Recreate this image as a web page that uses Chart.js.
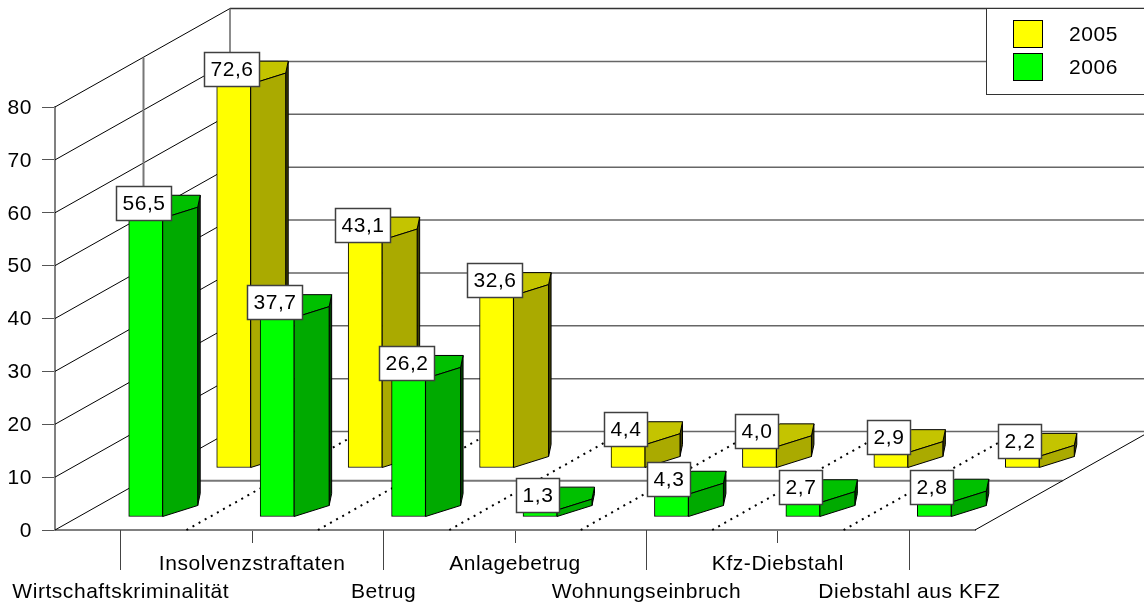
<!DOCTYPE html>
<html>
<head>
<meta charset="utf-8">
<script src="https://cdn.jsdelivr.net/npm/chart.js@4/dist/chart.umd.min.js"></script>
<style>
html, body { margin: 0; padding: 0; background: #fff; }
canvas { display: block; }
</style>
</head>
<body>
<canvas id="chart" width="1144" height="602"></canvas>
<script>
const categories = ['Wirtschaftskriminalität', 'Insolvenzstraftaten', 'Betrug', 'Anlagebetrug',
    'Wohnungseinbruch', 'Kfz-Diebstahl', 'Diebstahl aus KFZ'];
const values2005 = [72.6, 43.1, 32.6, 4.4, 4.0, 2.9, 2.2];
const values2006 = [56.5, 37.7, 26.2, 1.3, 4.3, 2.7, 2.8];
const yTicks = [0, 10, 20, 30, 40, 50, 60, 70, 80];

const FONT = '21px "Liberation Sans", Arial, sans-serif';

// how far the walls run back into the picture
const depthX = 175;
const depthY = 98.5;

// where each row of bars stands on the floor, and the colours of its faces
const rows = [
    { dx: 113, dy: -62, side: '#aaaa00', top: '#c4c400', dark: '#404000' },
    { dx: 25, dy: -13, side: '#00aa00', top: '#00c000', dark: '#004000' }
];

function line(ctx, x1, y1, x2, y2) {
    ctx.beginPath();
    ctx.moveTo(x1, y1);
    ctx.lineTo(x2, y2);
    ctx.stroke();
}

function poly(ctx, pts, fill) {
    ctx.beginPath();
    pts.forEach((p, i) => i ? ctx.lineTo(p[0], p[1]) : ctx.moveTo(p[0], p[1]));
    ctx.closePath();
    ctx.fillStyle = fill;
    ctx.fill();
    ctx.stroke();
}

// Floor and walls behind the bars
const wallsPlugin = {
    id: 'walls',
    beforeDraw(chart) {
        // the original text is set a little wider than the font's own spacing
        chart.ctx.letterSpacing = '0.55px';
    },
    beforeDatasetsDraw(chart) {
        const { ctx, chartArea: area, scales: { x, y } } = chart;
        const midX = area.left + depthX / 2 + 1, midY = -depthY / 2;
        const y0 = y.getPixelForValue(0);
        ctx.save();

        // left wall slants, back wall horizontals
        yTicks.forEach(v => {
            const py = y.getPixelForValue(v);
            ctx.strokeStyle = '#000';
            ctx.lineWidth = 1;
            line(ctx, area.left, py, area.left + depthX, py - depthY);
            ctx.strokeStyle = v === 80 ? '#333' : '#666';
            ctx.lineWidth = 1.5;
            line(ctx, area.left + depthX, py - depthY, 1144, py - depthY);
        });

        ctx.strokeStyle = '#666';
        ctx.lineWidth = 1.5;
        line(ctx, area.left + depthX, area.top - depthY, area.left + depthX, y0 - depthY);
        ctx.strokeStyle = '#777';
        ctx.lineWidth = 2;
        line(ctx, midX, area.top + midY, midX, y0 + midY);
        line(ctx, midX, y0 + midY, area.right + depthX / 2, y0 + midY);

        // right edge of the floor
        ctx.strokeStyle = '#000';
        ctx.lineWidth = 1;
        line(ctx, area.right, y0, area.right + depthX, y0 - depthY);

        // dotted lines across the floor, between the categories
        ctx.lineWidth = 2;
        ctx.setLineDash([2, 5]);
        const step = x.width / categories.length;
        for (let i = 1; i < categories.length; i++) {
            const px = x.getPixelForValue(i - 1) + step / 2;
            line(ctx, px, y0, px + depthX, y0 - depthY);
        }
        ctx.setLineDash([]);

        // every other tick runs down to the second label line
        ctx.strokeStyle = '#444';
        ctx.lineWidth = 1;
        for (let i = 0; i < categories.length; i += 2) {
            const px = Math.round(x.getPixelForValue(i) - 0.5) + 0.5;
            line(ctx, px, y0, px, y0 + 40);
        }
        ctx.restore();
    }
};

// Moves each series back onto its row and adds the side and top faces
const barsPlugin = {
    id: 'bars3d',
    beforeDatasetDraw(chart, args) {
        const { ctx } = chart;
        const row = rows[args.index];
        ctx.save();
        ctx.translate(row.dx, row.dy);
        ctx.strokeStyle = '#000';
        ctx.lineWidth = 1;
        args.meta.data.forEach(bar => {
            const x0 = bar.x - 17, x1 = bar.x + 17, top = bar.y, base = bar.base;
            poly(ctx, [[x1 + 35, top - 11], [x1 + 37.5, top - 23], [x1 + 37.5, base - 23], [x1 + 35, base - 11]], row.dark);
            poly(ctx, [[x0, top], [x1, top], [x1 + 35, top - 11], [x1 + 37.5, top - 23], [x0 + 37.5, top - 23]], row.top);
            poly(ctx, [[x1, top], [x1 + 35, top - 11], [x1 + 35, base - 11], [x1, base]], row.side);
        });
    },
    afterDatasetDraw(chart) {
        chart.ctx.restore();
    }
};

// Value boxes and legend, on top of everything
const labelsPlugin = {
    id: 'boxes',
    afterDatasetsDraw(chart) {
        const { ctx } = chart;
        ctx.save();
        ctx.font = FONT;
        ctx.textAlign = 'center';
        ctx.textBaseline = 'middle';
        ctx.lineWidth = 1.5;

        // back row first so the front row boxes stay above it
        chart.data.datasets.forEach((ds, d) => {
            const meta = chart.getDatasetMeta(d);
            ds.data.forEach((v, i) => {
                const text = v.toFixed(1).replace('.', ',');
                const w = Math.round(ctx.measureText(text).width) + 12;
                const cx = meta.data[i].x + rows[d].dx - 2.5;
                const bottom = meta.data[i].y + rows[d].dy + 1.5;
                const left = Math.round(cx - w / 2) + 0.5, top = Math.round(bottom - 34) + 0.5;
                ctx.fillStyle = '#fff';
                ctx.strokeStyle = '#404040';
                ctx.fillRect(left, top, w, 34);
                ctx.strokeRect(left, top, w, 34);
                ctx.fillStyle = '#000';
                ctx.fillText(text, left + w / 2, top + 18);
            });
        });

        // legend
        ctx.lineWidth = 1;
        ctx.fillStyle = '#fff';
        ctx.strokeStyle = '#333';
        ctx.fillRect(986.5, 8.5, 160, 86);
        ctx.strokeRect(986.5, 8.5, 160, 86);
        chart.data.datasets.forEach((ds, d) => {
            const sy = 20.5 + d * 33;
            ctx.fillStyle = ds.backgroundColor;
            ctx.strokeStyle = '#000';
            ctx.fillRect(1013.5, sy, 29, 27);
            ctx.strokeRect(1013.5, sy, 29, 27);
            ctx.fillStyle = '#000';
            ctx.textAlign = 'left';
            ctx.fillText(ds.label, 1069, 35 + d * 33);
        });
        ctx.restore();
    }
};

new Chart(document.getElementById('chart').getContext('2d'), {
    type: 'bar',
    data: {
        labels: categories,
        datasets: [
            { label: '2005', data: values2005, backgroundColor: '#ffff00', order: 2 },
            { label: '2006', data: values2006, backgroundColor: '#00ff00', order: 1 }
        ]
    },
    plugins: [wallsPlugin, barsPlugin, labelsPlugin],
    options: {
        responsive: false,
        animation: false,
        events: [],
        layout: { padding: { top: 107, right: 169, left: 0, bottom: 0 } },
        datasets: {
            bar: { grouped: false, barThickness: 34, borderColor: '#000', borderWidth: 1, borderSkipped: false, clip: false }
        },
        plugins: { legend: { display: false }, tooltip: { enabled: false }, title: { display: false } },
        scales: {
            x: {
                afterFit: scale => { scale.height = 72; },
                grid: { drawOnChartArea: false, offset: false, tickLength: 13, color: '#444', tickWidth: 1 },
                border: { color: '#808080', width: 2 },
                ticks: {
                    autoSkip: false,
                    maxRotation: 0,
                    minRotation: 0,
                    padding: 7,
                    color: '#000',
                    font: { family: '"Liberation Sans", Arial, sans-serif', size: 21, lineHeight: '28px' },
                    callback: (v, i) => i % 2 ? categories[i] : ['', categories[i]]
                }
            },
            y: {
                min: 0,
                max: 80,
                afterFit: scale => { scale.width = 55; },
                grid: { drawOnChartArea: false, tickLength: 13, color: '#555', tickWidth: 1 },
                border: { color: '#808080', width: 2 },
                ticks: {
                    stepSize: 10,
                    padding: 10,
                    labelOffset: 1,
                    color: '#000',
                    font: { family: '"Liberation Sans", Arial, sans-serif', size: 21 }
                }
            }
        }
    }
});
</script>
</body>
</html>
